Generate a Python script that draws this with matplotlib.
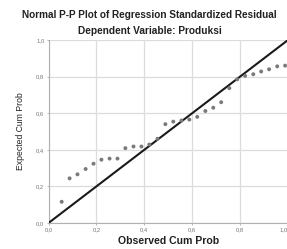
import matplotlib
matplotlib.use("Agg")
import matplotlib.pyplot as plt

# Observed vs expected cumulative probabilities
observed = [0.055, 0.088, 0.121, 0.155, 0.188, 0.221, 0.255, 0.288, 0.321, 0.355,
            0.388, 0.421, 0.455, 0.488, 0.521, 0.555, 0.588, 0.621, 0.655, 0.688,
            0.721, 0.755, 0.788, 0.821, 0.855, 0.888, 0.921, 0.955, 0.988]
expected = [0.116, 0.244, 0.266, 0.295, 0.324, 0.346, 0.352, 0.352, 0.409, 0.418,
            0.418, 0.429, 0.460, 0.540, 0.554, 0.560, 0.565, 0.580, 0.612, 0.630,
            0.660, 0.737, 0.785, 0.804, 0.813, 0.828, 0.840, 0.856, 0.860]
ref_line = [0.0, 1.0]
ticks = [0.0, 0.2, 0.4, 0.6, 0.8, 1.0]
tick_labels = ["0,0", "0,2", "0,4", "0,6", "0,8", "1,0"]

plt.rcParams['font.family'] = ['Liberation Sans', 'DejaVu Sans']

fig = plt.figure(figsize=(2.87, 2.49), dpi=100)
ax = fig.add_axes([48.5 / 287, 26 / 249, (288 - 48.5) / 287, (223 - 40) / 249])

ax.set_xlim(0, 1)
ax.set_ylim(0, 1)
ax.set_xticks(ticks)
ax.set_yticks(ticks)
ax.set_xticklabels(tick_labels)
ax.set_yticklabels(tick_labels)
ax.tick_params(labelsize=4.2, labelcolor='#777777', length=1.5, width=0.6,
               color='#aaaaaa', pad=1.5)
ax.get_xticklabels()[-1].set_horizontalalignment('right')
ax.grid(True, color='#dcdcdc', linewidth=0.9)
ax.set_axisbelow(True)
for s in ['top', 'right']:
    ax.spines[s].set_visible(False)
for s in ['left', 'bottom']:
    ax.spines[s].set_color('#b0b0b0')
    ax.spines[s].set_linewidth(0.8)

ax.plot(ref_line, ref_line, color='#1a1a1a', linewidth=1.5, solid_capstyle='butt', zorder=3)
ax.scatter(observed, expected, s=8, color='#7a7a7a', edgecolors='none', zorder=4, clip_on=False)

fig.text(149 / 287, 1 - 15 / 249, "Normal P-P Plot of Regression Standardized Residual",
         ha='center', va='center', fontsize=7.2, fontweight='bold', color='#222222')
fig.text(150 / 287, 1 - 31 / 249, "Dependent Variable: Produksi",
         ha='center', va='center', fontsize=7.3, fontweight='bold', color='#222222')
fig.text(169 / 287, 1 - 241 / 249, "Observed Cum Prob",
         ha='center', va='center', fontsize=7.6, fontweight='bold', color='#222222')
fig.text(21 / 287, 1 - 131 / 249, "Expected Cum Prob", rotation=90,
         ha='center', va='center', fontsize=6.2, color='#222222')

fig.savefig("out.png", dpi=100)
